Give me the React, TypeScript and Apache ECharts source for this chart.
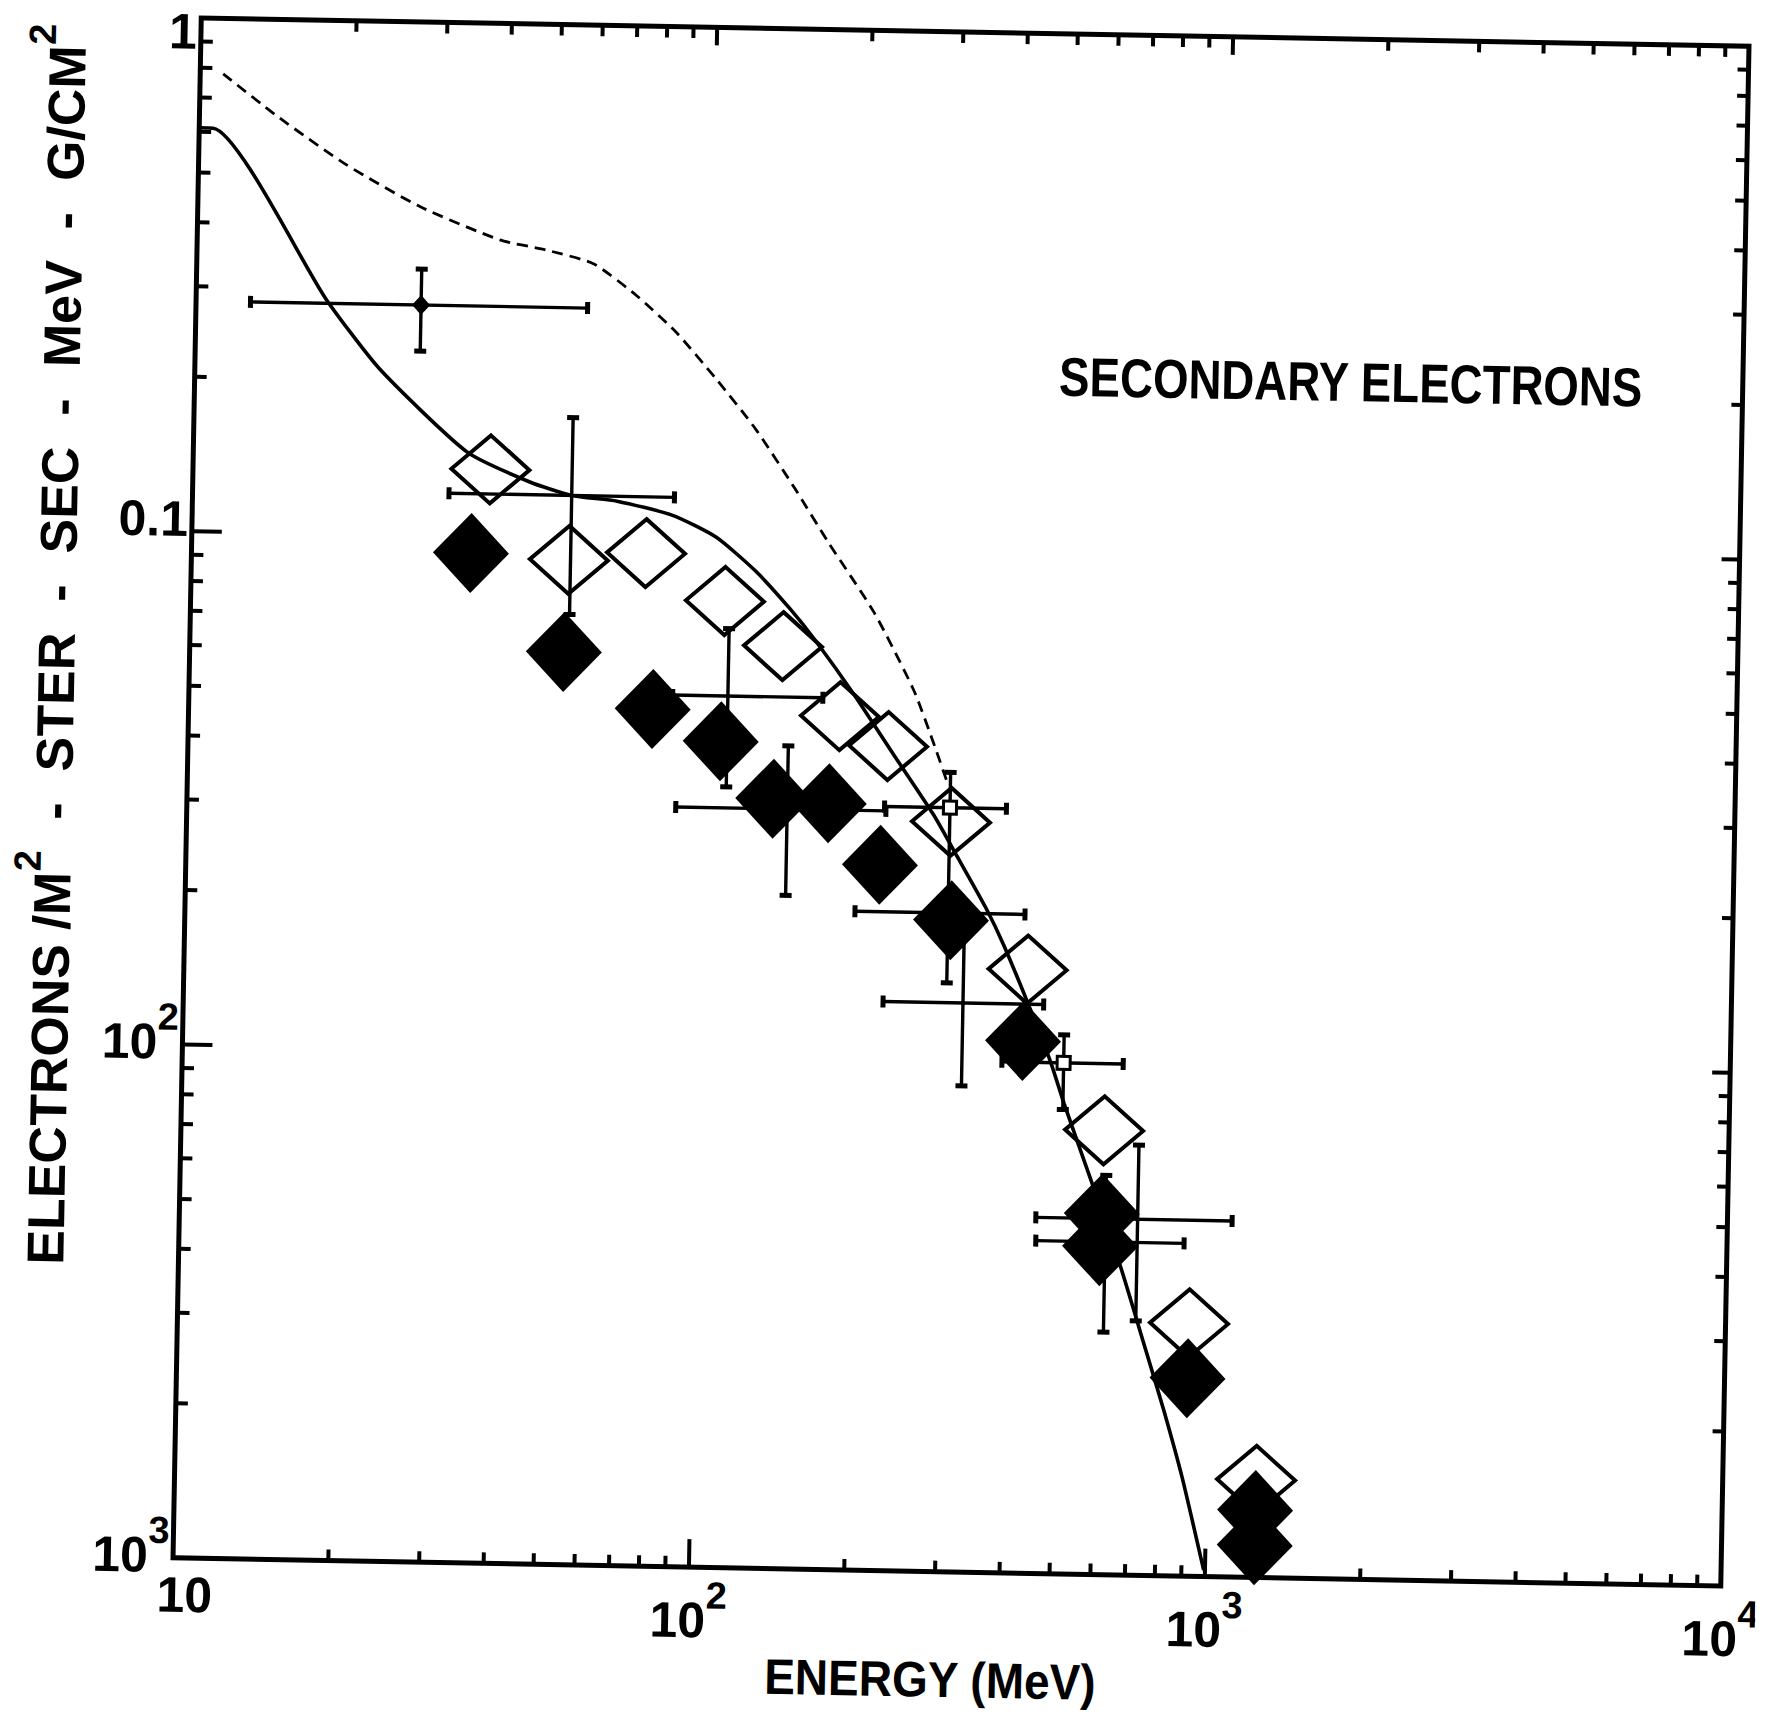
import React, { useEffect, useRef } from "react";
import * as echarts from "echarts";

const FONT = '"Liberation Sans Narrow", "Liberation Sans", Arial, sans-serif';

// ---- tick labels ----
const xTickBase = ["10", "10", "10", "10"]; // 10, 10^2, 10^3, 10^4
const xTickExp = ["", "2", "3", "4"];
const yTickBase = ["10", "10", "0.1", "1"]; // bottom to top, as printed
const yTickExp = ["3", "2", "", ""];

// ---- open diamonds (energy MeV, flux) ----
const openE = [37.7, 53.9, 76.0, 108.5, 141.1, 183.0, 227.3, 302.9, 431.5, 615.0, 912.7, 1246.8];
const openF = [0.1352, 0.0907, 0.0941, 0.0764, 0.0627, 0.046, 0.0404, 0.0289, 0.015, 0.00734, 0.00311, 0.00155];

// ---- filled diamonds ----
const filledE = [34.8, 53.1, 79.3, 107.7, 136.8, 175.3, 221.4, 305.4, 425.3, 613.0, 609.8, 910.6, 1244.5, 1246.0];
const filledF = [0.0928, 0.06, 0.0468, 0.0407, 0.0316, 0.0311, 0.0237, 0.0186, 0.01088, 0.00505, 0.00436, 0.00243, 0.001353, 0.001156];

// ---- small filled diamond with error bars ----
const smallE = [27.3];
const smallF = [0.281];

// ---- open squares ----
const squareE = [301.2, 510.7];
const squareF = [0.0308, 0.0099];

// ---- error bars ----
const errE = [27.3, 54.3, 110.8, 145.7, 301.2, 293.0, 324.3, 510.7, 719.5, 623.4];
const errF = [0.281, 0.1211, 0.0499, 0.0302, 0.0308, 0.0192, 0.01284, 0.0099, 0.00494, 0.00445];
const errELow = [12.75, 31.4, 86.6, 88.6, 224.9, 198.8, 227.0, 387.7, 456.8, 457.6];
const errEHigh = [57.4, 85.9, 169.3, 226.4, 387.5, 424.6, 464.9, 666.2, 1097, 887];
const errFLow = [0.2286, 0.071, 0.0332, 0.0205, 0.01403, 0.0192, 0.00885, 0.00803, 0.00313, 0.00297];
const errFHigh = [0.33, 0.1718, 0.0675, 0.0401, 0.0361, 0.0192, 0.0199, 0.01122, 0.00689, 0.006];

// ---- solid calculated curve ----
const solidE = [10, 10.64, 17.9, 22.84, 33.9, 45.0, 54.3, 66.5, 85.3, 103.7, 124.1, 145.8, 162.7, 194.9, 233.6, 280.1, 312.0, 356.3, 387.2, 434.6, 480.5, 513.8, 588.2, 671.4, 755.2, 822.4, 896.0, 994.3];
const solidF = [0.611, 0.6106, 0.2853, 0.2099, 0.146, 0.1282, 0.1211, 0.1185, 0.1117, 0.1017, 0.0876, 0.0738, 0.0646, 0.0506, 0.0388, 0.0298, 0.0248, 0.01972, 0.0167, 0.0128, 0.01, 0.00823, 0.00571, 0.00395, 0.002736, 0.002093, 0.001559, 0.001029];

// ---- dashed curve ----
const dashE = [11.08, 14.32, 19.36, 26.94, 38.6, 47.45, 58.7, 71.5, 85.5, 102.3, 122.7, 146.9, 171.3, 211.4, 253.8, 280.0, 298.1];
const dashF = [0.7796, 0.642, 0.5236, 0.4369, 0.3787, 0.3634, 0.343, 0.2979, 0.2536, 0.207, 0.1656, 0.1272, 0.1002, 0.0734, 0.052, 0.0405, 0.0341];

// ---- tick positions ----
const minorMult = [2, 3, 4, 5, 6, 7, 8, 9];
const xDecades = [10, 100, 1000];
const yDecades = [0.001, 0.01, 0.1];

const xTickData: number[][] = [];
xDecades.forEach((d) => {
  if (d > 10) xTickData.push([d, 0.01, 1, 2]);
  minorMult.forEach((m) => xTickData.push([m * d, 0.01, 1, 1]));
});
const yTickData: number[][] = [];
yDecades.forEach((d) => {
  if (d > 0.001) yTickData.push([100, d, 2, 2]);
  minorMult.forEach((m) => yTickData.push([100, m * d, 2, 1]));
});

const bold = { fontFamily: FONT, fontWeight: "bold" as const, color: "#000" };
const tickRich = {
  a: { ...bold, fontSize: 50, lineHeight: 50, verticalAlign: "bottom" },
  s: { ...bold, fontSize: 38, lineHeight: 69, verticalAlign: "top" },
  one: { ...bold, fontSize: 50, lineHeight: 50, padding: [52, 0, 0, 0] },
  first: { ...bold, fontSize: 50, lineHeight: 56, padding: [0, 0, 0, 24] },
};

function fmtX(v: number) {
  const i = Math.round(Math.log10(v)) - 1;
  if (i < 0 || i > 3) return "";
  if (!xTickExp[i]) return `{first|${xTickBase[i]}}`;
  return `{a|${xTickBase[i]}}{s|${xTickExp[i]}}`;
}
function fmtY(v: number) {
  const i = Math.round(Math.log10(v)) + 3;
  if (i < 0 || i > 3) return "";
  if (i === 3) return `{one|${yTickBase[i]}}`;
  if (!yTickExp[i]) return `{a|${yTickBase[i]}}`;
  return `{a|${yTickBase[i]}}{s|${yTickExp[i]}}`;
}

function renderTick(params: any, api: any) {
  const cs = params.coordSys;
  const kind = api.value(2);
  const major = api.value(3) === 2;
  const st = { stroke: "#000", lineWidth: 4 };
  if (kind === 1) {
    const px = api.coord([api.value(0), 0.01])[0];
    const b = cs.y + cs.height;
    const t = cs.y;
    return {
      type: "group",
      children: [
        { type: "line", shape: { x1: px, y1: b, x2: px, y2: b - (major ? 28 : 11) }, style: st },
        { type: "line", shape: { x1: px, y1: t, x2: px, y2: t + (major ? 18 : 11) }, style: st },
      ],
    };
  }
  const py = api.coord([100, api.value(1)])[1];
  const l = cs.x;
  const r = cs.x + cs.width;
  return {
    type: "group",
    children: [
      { type: "line", shape: { x1: l, y1: py, x2: l + (major ? 30 : 12), y2: py }, style: st },
      { type: "line", shape: { x1: r, y1: py, x2: r - (major ? 18 : 11), y2: py }, style: st },
    ],
  };
}

function renderErr(params: any, api: any) {
  const e = api.value(0);
  const f = api.value(1);
  const l = api.coord([api.value(2), f]);
  const r = api.coord([api.value(3), f]);
  const lo = api.coord([e, api.value(4)]);
  const hi = api.coord([e, api.value(5)]);
  const st = { stroke: "#000", lineWidth: 3.4 };
  const cap = { stroke: "#000", lineWidth: 5 };
  const c = 6;
  const children: any[] = [
    { type: "line", shape: { x1: l[0], y1: l[1], x2: r[0], y2: r[1] }, style: st },
    { type: "line", shape: { x1: l[0], y1: l[1] - c, x2: l[0], y2: l[1] + c }, style: cap },
    { type: "line", shape: { x1: r[0], y1: r[1] - c, x2: r[0], y2: r[1] + c }, style: cap },
  ];
  if (Math.abs(hi[1] - lo[1]) > 1) {
    children.push(
      { type: "line", shape: { x1: lo[0], y1: lo[1], x2: hi[0], y2: hi[1] }, style: st },
      { type: "line", shape: { x1: lo[0] - c, y1: lo[1], x2: lo[0] + c, y2: lo[1] }, style: cap },
      { type: "line", shape: { x1: hi[0] - c, y1: hi[1], x2: hi[0] + c, y2: hi[1] }, style: cap }
    );
  }
  return { type: "group", children };
}

const pairs = (a: number[], b: number[]) => a.map((v, i) => [v, b[i]]);

const centered = { align: "center", verticalAlign: "middle", textAlign: "center", textVerticalAlign: "middle" };

function buildOption(): any {
  return {
    animation: false,
    backgroundColor: "#ffffff",
    grid: {
      left: 187,
      top: 32,
      width: 1548,
      height: 1540,
      containLabel: false,
      outerBoundsMode: "none",
      show: true,
      borderColor: "#000",
      borderWidth: 5,
      backgroundColor: "transparent",
    },
    xAxis: {
      type: "log",
      logBase: 10,
      min: 10,
      max: 10000,
      axisLine: { show: false },
      axisTick: { show: false },
      minorTick: { show: false },
      splitLine: { show: false },
      axisLabel: { margin: 9, showMinLabel: true, showMaxLabel: true, formatter: fmtX, rich: tickRich },
    },
    yAxis: {
      type: "log",
      logBase: 10,
      min: 0.001,
      max: 1,
      axisLine: { show: false },
      axisTick: { show: false },
      minorTick: { show: false },
      splitLine: { show: false },
      axisLabel: { margin: 4, padding: [0, 0, 24, 0], showMinLabel: true, showMaxLabel: true, formatter: fmtY, rich: tickRich },
    },
    graphic: [
      {
        type: "text",
        x: 1343,
        y: 375,
        scaleX: 0.83,
        silent: true,
        style: { text: "SECONDARY ELECTRONS", font: `bold 55px ${FONT}`, fill: "#000", ...centered },
      },
      {
        type: "text",
        x: 946,
        y: 1680,
        scaleX: 0.92,
        silent: true,
        style: { text: "ENERGY (MeV)", font: `bold 50px ${FONT}`, fill: "#000", ...centered },
      },
      {
        type: "text",
        x: 45,
        y: 661,
        rotation: Math.PI / 2,
        silent: true,
        style: {
          text: "{a|ELECTRONS /M}{s|2}{h|-}{a|STER}{h|-}{a|SEC}{h|-}{a|MeV}{h|-}{a|G/CM}{s|2}",
          fill: "#000",
          ...centered,
          rich: {
            a: { fontFamily: FONT, fontWeight: "bold", fontSize: 52, lineHeight: 52, verticalAlign: "bottom", fill: "#000" },
            h: { fontFamily: FONT, fontWeight: "bold", fontSize: 52, lineHeight: 52, verticalAlign: "bottom", padding: [0, 31, 0, 31], fill: "#000" },
            s: { fontFamily: FONT, fontWeight: "bold", fontSize: 38, lineHeight: 70, verticalAlign: "top", fill: "#000" },
          },
        },
      },
    ],
    series: [
      {
        type: "line",
        data: pairs(dashE, dashF),
        showSymbol: false,
        smooth: 0.2,
        silent: true,
        z: 2,
        lineStyle: { color: "#000", width: 2.8, type: [11, 7] },
      },
      {
        type: "line",
        data: pairs(solidE, solidF),
        showSymbol: false,
        smooth: 0.2,
        silent: true,
        z: 3,
        lineStyle: { color: "#000", width: 3.6 },
      },
      {
        type: "custom",
        renderItem: renderErr,
        silent: true,
        z: 4,
        encode: { x: [0, 2, 3], y: [1, 4, 5] },
        data: errE.map((e, i) => [e, errF[i], errELow[i], errEHigh[i], errFLow[i], errFHigh[i]]),
      },
      {
        type: "scatter",
        data: pairs(openE, openF),
        symbol: "diamond",
        symbolSize: [78, 68],
        silent: true,
        z: 5,
        itemStyle: { color: "rgba(0,0,0,0)", borderColor: "#000", borderWidth: 4, opacity: 1 },
      },
      {
        type: "scatter",
        data: pairs(filledE, filledF),
        symbol: "diamond",
        symbolSize: [76, 80],
        silent: true,
        z: 6,
        itemStyle: { color: "#000", opacity: 1 },
      },
      {
        type: "scatter",
        data: pairs(smallE, smallF),
        symbol: "diamond",
        symbolSize: [18, 20],
        silent: true,
        z: 7,
        itemStyle: { color: "#000", opacity: 1 },
      },
      {
        type: "scatter",
        data: pairs(squareE, squareF),
        symbol: "rect",
        symbolSize: 13,
        silent: true,
        z: 7,
        itemStyle: { color: "#fff", borderColor: "#000", borderWidth: 3, opacity: 1 },
      },
      {
        type: "custom",
        renderItem: renderTick,
        silent: true,
        clip: false,
        z: 10,
        encode: { x: 0, y: 1 },
        data: [...xTickData, ...yTickData],
      },
    ],
  };
}

export default function App() {
  const ref = useRef<HTMLDivElement>(null);
  useEffect(() => {
    if (!ref.current) return;
    const chart = echarts.init(ref.current, null, { renderer: "svg" });
    chart.setOption(buildOption());
    return () => chart.dispose();
  }, []);
  return (
    <div style={{ position: "fixed", left: 0, top: 0, width: 1770, height: 1716, overflow: "hidden", background: "#fff" }}>
      <div
        ref={ref}
        style={{
          position: "absolute",
          left: 0,
          top: 0,
          width: 1770,
          height: 1716,
          transform: "rotate(1.05deg)",
          transformOrigin: "960.75px 802.25px",
        }}
      />
    </div>
  );
}
